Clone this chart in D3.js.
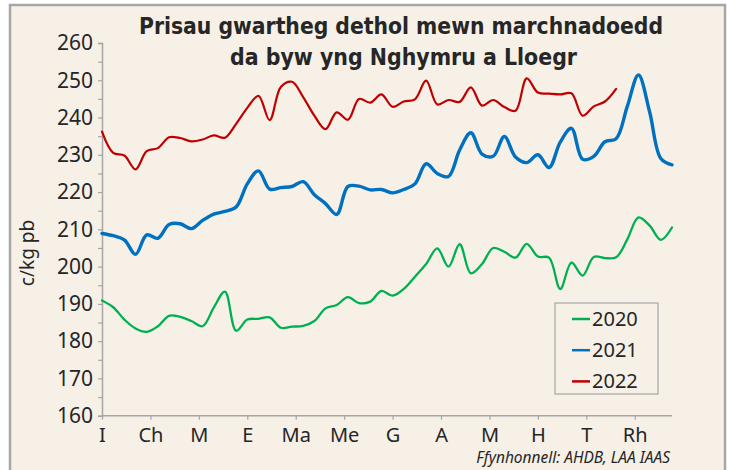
<!DOCTYPE html>
<html>
<head>
<meta charset="utf-8">
<script src="https://cdn.jsdelivr.net/npm/d3@7"></script>
<style>
	html, body { margin: 0; padding: 0; background: #ffffff; }
	svg { display: block; }
</style>
</head>
<body>
<div id="chart"></div>
<script>
// wythnosau 1-52, c/kg pb
const months = ["I", "Ch", "M", "E", "Ma", "Me", "G", "A", "M", "H", "T", "Rh"];
const years = ["2020", "2021", "2022"];

const prices2020 = [
	190.9, 189.1, 185.8, 183.4, 182.5, 184.0, 186.8, 186.5, 185.4, 184.0,
	189.0, 193.3, 182.8, 185.8, 186.0, 186.4, 183.6, 183.9, 184.1, 185.4,
	188.8, 189.7, 191.8, 190.2, 190.6, 193.5, 192.2, 194.0, 197.3, 200.7,
	204.9, 200.0, 206.0, 198.2, 200.7, 205.0, 204.0, 202.4, 206.1, 202.7,
	202.4, 194.0, 201.1, 197.6, 202.6, 202.3, 202.5, 207.3, 213.2, 211.0,
	207.2, 210.5
];
const prices2021 = [
	208.9, 208.3, 207.2, 203.3, 208.5, 207.6, 211.3, 211.5, 210.2, 212.4,
	214.1, 214.8, 216.0, 222.2, 225.7, 220.8, 221.2, 221.5, 222.8, 219.3,
	216.9, 214.0, 221.5, 221.6, 220.6, 220.7, 219.8, 220.7, 222.2, 227.6,
	225.0, 224.2, 231.3, 235.9, 230.2, 229.6, 234.9, 229.4, 227.9, 230.0,
	226.6, 233.4, 237.1, 228.8, 229.6, 233.5, 234.3, 243.0, 251.4, 241.5,
	229.0, 227.3
];
const prices2022 = [
	236.2, 230.5, 229.8, 226.1, 231.0, 231.8, 234.7, 234.5, 233.6, 234.1,
	235.2, 234.6, 238.3, 242.6, 245.8, 239.3, 248.2, 249.6, 245.5, 240.5,
	236.9, 241.4, 239.4, 245.0, 244.0, 246.2, 242.9, 244.3, 244.9, 249.9,
	243.5, 244.7, 244.2, 248.1, 243.2, 244.7, 242.8, 241.8, 250.5, 246.7,
	246.4, 246.2, 246.5, 240.5, 243.0, 244.3, 247.7
];
const yTicks = [160, 170, 180, 190, 200, 210, 220, 230, 240, 250, 260];

const CHART_WIDTH = 729;
const CHART_HEIGHT = 470;
const BG = "#f6f0e7";
const AXIS = "#a6a6a6";
const TEXT = "#262626";
const FONT = "'Noto Sans', 'Open Sans', sans-serif";

const series = [
	{ name: years[0], values: prices2020, color: "#00b050", width: 2.3 },
	{ name: years[1], values: prices2021, color: "#0070c0", width: 3.4 },
	{ name: years[2], values: prices2022, color: "#c00000", width: 2.2 },
];

const x = d3.scaleLinear().domain([0, 51]).range([102, 672]);
const y = d3.scaleLinear().domain([160, 260]).range([415.7, 43]);

const svg = d3
	.select("#chart")
	.append("svg")
	.attr("width", CHART_WIDTH)
	.attr("height", CHART_HEIGHT)
	.attr("viewBox", [0, 0, CHART_WIDTH, CHART_HEIGHT])
	.style("font-family", FONT);

// cefndir a ffrâm
svg.append("rect")
	.attr("x", 10)
	.attr("y", 5)
	.attr("width", 715)
	.attr("height", CHART_HEIGHT)
	.attr("fill", BG)
	.attr("stroke", AXIS)
	.attr("stroke-width", 2.5);

// teitl
const title = svg
	.append("text")
	.attr("fill", TEXT)
	.attr("font-family", "'DejaVu Sans Condensed', 'DejaVu Sans', sans-serif")
	.attr("font-weight", "bold")
	.attr("font-size", 22.5)
	.attr("text-anchor", "middle");
title.append("tspan")
	.attr("x", 401)
	.attr("y", 34)
	.attr("textLength", 524)
	.attr("lengthAdjust", "spacingAndGlyphs")
	.text("Prisau gwartheg dethol mewn marchnadoedd");
title.append("tspan")
	.attr("x", 403.5)
	.attr("y", 64.5)
	.attr("textLength", 347)
	.attr("lengthAdjust", "spacingAndGlyphs")
	.text("da byw yng Nghymru a Lloegr");

// echelin y
const yAxis = svg
	.append("g")
	.attr("transform", `translate(${x(0)},0)`)
	.call(
		d3.axisLeft(y)
			.tickValues(d3.range(160, 261, 5))
			.tickSize(4)
			.tickFormat((d) => (yTicks.includes(d) ? d : ""))
	);
yAxis.select(".domain").attr("stroke", AXIS).attr("stroke-width", 1.5);
yAxis.selectAll(".tick line").attr("stroke", AXIS).attr("stroke-width", 1.2);
yAxis.selectAll(".tick text")
	.attr("x", -9)
	.attr("fill", TEXT)
	.attr("font-size", 21)
	.attr("font-family", FONT);

svg.append("text")
	.attr("transform", "translate(34,253) rotate(-90)")
	.attr("text-anchor", "middle")
	.attr("fill", TEXT)
	.attr("font-size", 19)
	.text("c/kg pb");

// echelin x
const monthTicks = d3.range(12).map((m) => (m * 52) / 12);
const xAxis = svg
	.append("g")
	.attr("transform", `translate(0,${y(160)})`)
	.call(
		d3.axisBottom(x)
			.tickValues(monthTicks)
			.tickSize(4)
			.tickSizeOuter(0)
			.tickFormat((d, i) => months[i])
	);
xAxis.select(".domain")
	.attr("d", `M${x(0)},0H${x(51)}`)
	.attr("stroke", AXIS)
	.attr("stroke-width", 1.5);
xAxis.selectAll(".tick line").attr("stroke", AXIS).attr("stroke-width", 1.2);
xAxis.selectAll(".tick text")
	.attr("y", 12)
	.attr("fill", TEXT)
	.attr("font-size", 20)
	.attr("font-family", FONT);

// llinellau
const line = d3
	.line()
	.x((d, i) => x(i))
	.y((d) => y(d))
	.curve(d3.curveCatmullRom);

svg.append("g")
	.selectAll("path")
	.data(series)
	.join("path")
	.attr("d", (d) => line(d.values))
	.attr("fill", "none")
	.attr("stroke", (d) => d.color)
	.attr("stroke-width", (d) => d.width)
	.attr("stroke-linejoin", "round")
	.attr("stroke-linecap", "round");

// allwedd
const legend = svg.append("g").attr("transform", "translate(555,303)");
legend.append("rect")
	.attr("width", 103)
	.attr("height", 91)
	.attr("fill", BG)
	.attr("stroke", AXIS)
	.attr("stroke-width", 1.2);
const item = legend
	.selectAll("g")
	.data(series)
	.join("g")
	.attr("transform", (d, i) => `translate(0,${16 + i * 31.2})`);
item.append("line")
	.attr("x1", 17)
	.attr("x2", 35)
	.attr("stroke", (d) => d.color)
	.attr("stroke-width", 2.5);
item.append("text")
	.attr("x", 37)
	.attr("dy", "0.35em")
	.attr("fill", TEXT)
	.attr("font-size", 20)
	.text((d) => d.name);

// ffynhonnell
svg.append("text")
	.attr("x", 670)
	.attr("y", 463)
	.attr("text-anchor", "end")
	.attr("fill", TEXT)
	.attr("font-size", 15.5)
	.attr("font-style", "italic")
	.text("Ffynhonnell: AHDB, LAA IAAS");
</script>
</body>
</html>
